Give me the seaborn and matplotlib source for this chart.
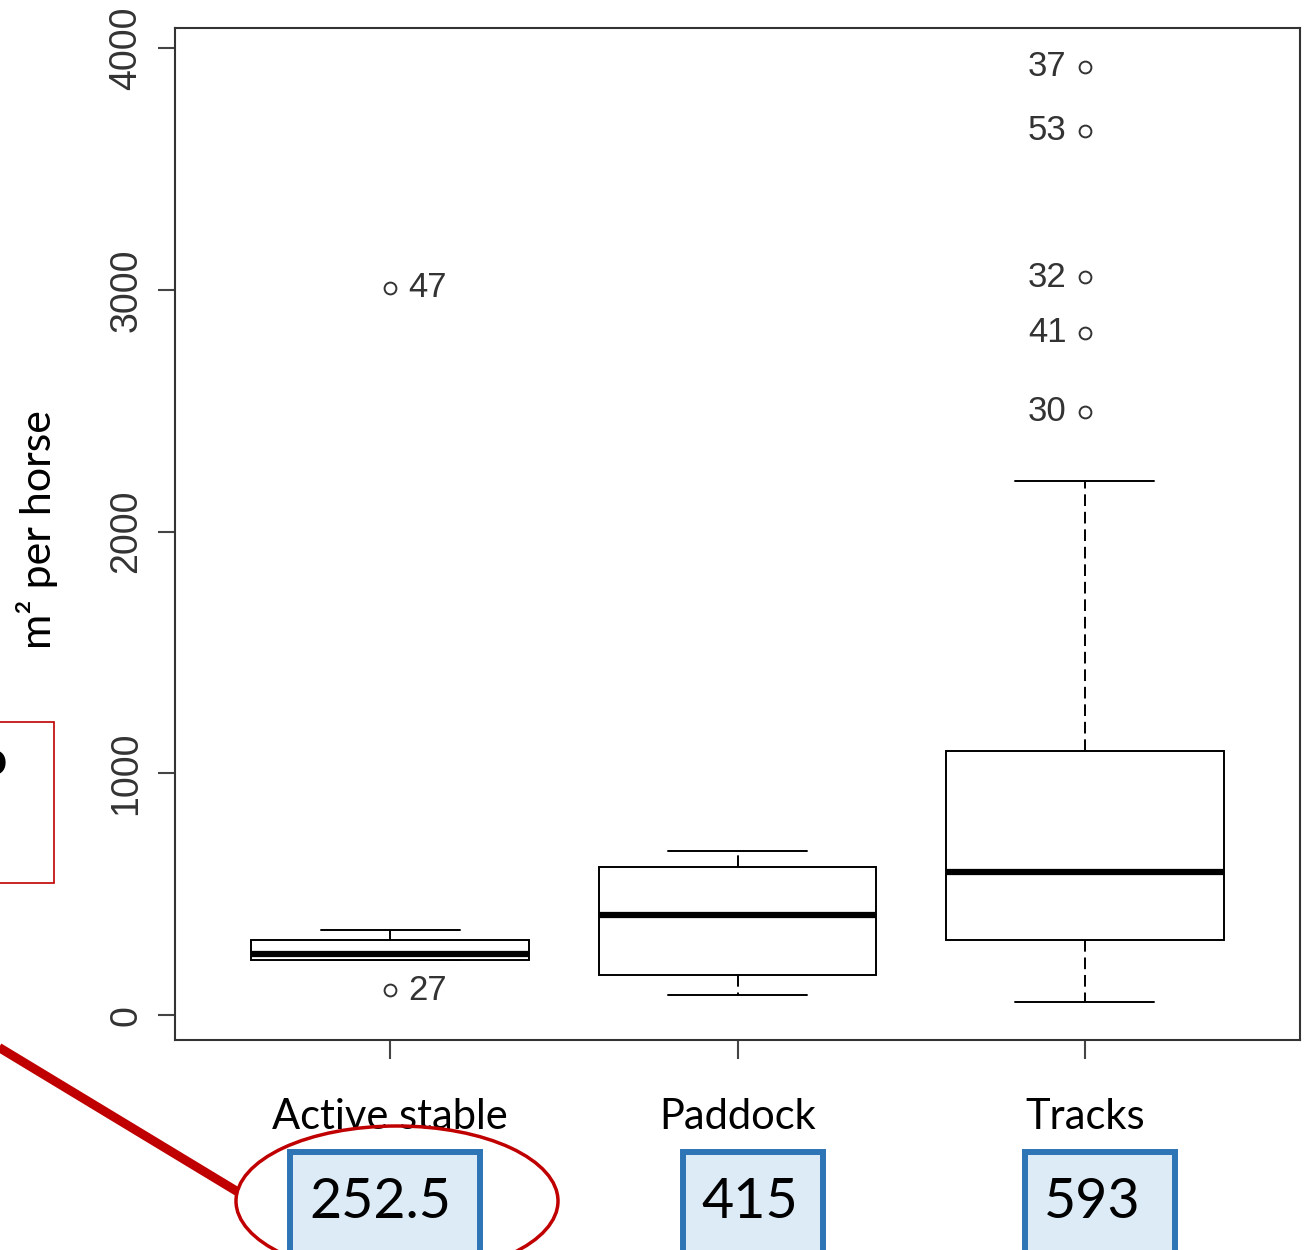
import matplotlib
matplotlib.use("Agg")
import matplotlib.pyplot as plt
from matplotlib import font_manager
from matplotlib.patches import Rectangle, Ellipse
from matplotlib.lines import Line2D
import pandas as pd
import seaborn as sns

# Categories
groups = ["Active stable", "Paddock", "Tracks"]

active_stable = [103, 228, 228, 252.5, 252.5, 310, 310, 352, 3008]
paddock = [83, 165, 415, 612, 679]
tracks = [54, 310, 310, 310, 310, 310, 310,
          593, 593, 593, 593, 593, 593,
          1092, 1092, 1092, 1092, 1092, 1092,
          2209, 2495, 2822, 3053, 3657, 3922]

# Labelled outliers (case numbers)
outlier_group = [0, 0, 2, 2, 2, 2, 2]
outlier_value = [3008, 103, 3922, 3657, 3053, 2822, 2495]
outlier_label = ["47", "27", "37", "53", "32", "41", "30"]

# Median call-outs on the slide
median_text = ["252.5", "415", "593"]

yticks = [0, 1000, 2000, 3000, 4000]

# long-form table for seaborn
df = pd.DataFrame({
    "group": ["Active stable"] * len(active_stable) + ["Paddock"] * len(paddock) + ["Tracks"] * len(tracks),
    "value": active_stable + paddock + tracks,
})

sns.set_style("ticks")
installed = {f.name for f in font_manager.fontManager.ttflist}
narrow = "Liberation Sans Narrow" if "Liberation Sans Narrow" in installed else "Liberation Sans"
label_size = 29 if narrow == "Liberation Sans Narrow" else 25
plt.rcParams["font.family"] = ["Liberation Sans", "DejaVu Sans"]

W, H = 1306, 1250
fig = plt.figure(figsize=(W / 100, H / 100), dpi=100)

# pixel helpers (top-left origin) for the slide overlays
def fx(x):
    return x / W

def fy(y):
    return 1 - y / H

ax = fig.add_axes([fx(175), fy(1040), (1300 - 175) / W, (1040 - 28) / H])

sns.boxplot(data=df, x="group", y="value", order=groups, ax=ax,
            width=0.8, color="white", linecolor="black", linewidth=1.4,
            whis=1.5,
            medianprops=dict(linewidth=4.5, color="black"),
            whiskerprops=dict(linestyle=(0, (6, 3)), linewidth=1.4),
            capprops=dict(linewidth=1.4),
            flierprops=dict(marker="o", markersize=8.5, markerfacecolor="none",
                            markeredgecolor="#333333", markeredgewidth=1.4))

ax.set_xlim(-0.62, 2.62)
ax.set_ylim(-103, 4083)

for s in ax.spines.values():
    s.set_visible(True)
    s.set_color("#333333")
    s.set_linewidth(1.5)

ax.set_yticks(yticks)
ax.set_yticklabels([str(t) for t in yticks], rotation=90, va="center")
ax.tick_params(axis="y", length=12, width=1.5, color="#444444",
               labelsize=27, labelcolor="#333333", pad=10)
ax.tick_params(axis="x", length=14, width=1.5, color="#444444", pad=28)
ax.set_xticks(range(len(groups)))
ax.set_xticklabels(groups, fontsize=30, family=["Lato", "DejaVu Sans"], color="black")
ax.set_xlabel("")

ax.set_ylabel("m² per horse", fontsize=31, family=["Lato", "DejaVu Sans"], color="black")
ax.yaxis.set_label_coords(-0.104, 0.504)

# outlier case numbers
for g, v, lab in zip(outlier_group, outlier_value, outlier_label):
    if g == 0:
        ax.annotate(lab, (g, v), xytext=(13, 0), textcoords="offset points",
                    ha="left", va="center", fontsize=label_size, family=narrow, color="#333333")
    else:
        ax.annotate(lab, (g, v), xytext=(-13, 0), textcoords="offset points",
                    ha="right", va="center", fontsize=label_size, family=narrow, color="#333333")

# slide overlays: median call-out boxes
box_x = [(290, 480), (683, 823), (1025, 1175)]
text_x = [380, 750, 1092]
for (x0, x1), tx, t in zip(box_x, text_x, median_text):
    fig.add_artist(Rectangle((fx(x0), fy(1262)), (x1 - x0) / W, (1262 - 1152) / H,
                             transform=fig.transFigure, facecolor="#DDEBF7",
                             edgecolor="#2E75B6", linewidth=4.3))
    fig.text(fx(tx), fy(1202), t, ha="center", va="center", fontsize=40,
             family=["Lato", "DejaVu Sans"], color="black")

# red highlight around the first median
fig.add_artist(Ellipse((fx(397), fy(1201)), 322 / W, 150 / H, transform=fig.transFigure,
                       facecolor="none", edgecolor="#C00000", linewidth=2.5))
fig.add_artist(Line2D([fx(-5), fx(238)], [fy(1045), fy(1192)], transform=fig.transFigure,
                      color="#C00000", linewidth=6.5, solid_capstyle="butt"))
fig.add_artist(Rectangle((fx(-20), fy(883)), 74 / W, (883 - 722) / H,
                         transform=fig.transFigure, facecolor="none",
                         edgecolor="#C00000", linewidth=1.2))
fig.text(fx(7), fy(761), "o", ha="right", va="center", fontsize=34,
         family=["Lato", "DejaVu Sans"], fontweight="bold", color="black")

fig.savefig("out.png", dpi=100)
